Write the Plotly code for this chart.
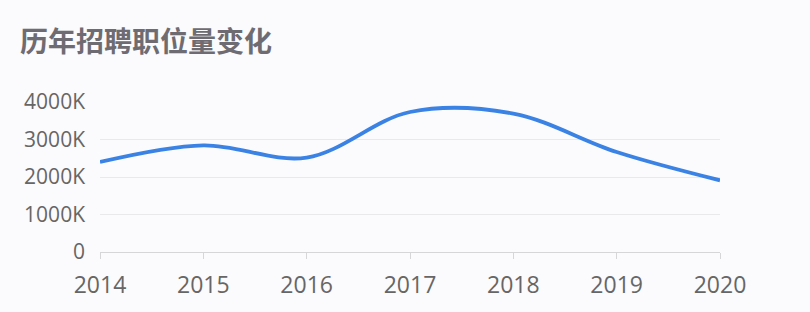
import plotly.graph_objects as go

years = [2014, 2015, 2016, 2017, 2018, 2019, 2020]
positions = [2400, 2845, 2517, 3733, 3690, 2667, 1912]  # thousands
y_ticks = [0, 1000, 2000, 3000, 4000]
y_labels = ["0", "1000K", "2000K", "3000K", "4000K"]
title_text = "历年招聘职位量变化"

fig = go.Figure()
fig.add_trace(go.Scatter(
    x=years, y=positions, mode="lines",
    line=dict(color="#3a82e4", width=3.8, shape="spline", smoothing=1.0),
    hoverinfo="skip",
))

fig.update_layout(
    width=810, height=312,
    margin=dict(l=100, r=90, t=102, b=60),
    paper_bgcolor="#fbfafc", plot_bgcolor="#fbfafc",
    showlegend=False,
    font=dict(family="Open Sans, Noto Sans, sans-serif", color="#666666"),
    annotations=[dict(
        text="<b>" + title_text + "</b>", xref="paper", yref="paper",
        x=0, y=1, xanchor="left", yanchor="middle",
        xshift=-82, yshift=62,
        showarrow=False,
        font=dict(family="Noto Sans CJK SC", size=28, color="#6e6c72"),
    )],
)
fig.update_xaxes(
    range=[2014, 2020], tickvals=years, ticktext=[str(y) for y in years],
    showgrid=False, zeroline=False,
    showline=True, linecolor="#d6d6d8", linewidth=1,
    ticks="outside", ticklen=6, tickcolor="#d6d6d8",
    ticklabelstandoff=6,
    tickfont=dict(size=23, color="#666666"),
)
fig.update_yaxes(
    range=[0, 4000], tickvals=y_ticks, ticktext=y_labels,
    showgrid=True, gridcolor="#e9e9ec", gridwidth=1,
    zeroline=False, showline=False,
    ticks="", ticklabelstandoff=14,
    tickfont=dict(size=21, color="#666666"),
)

fig.write_html("out.html")
